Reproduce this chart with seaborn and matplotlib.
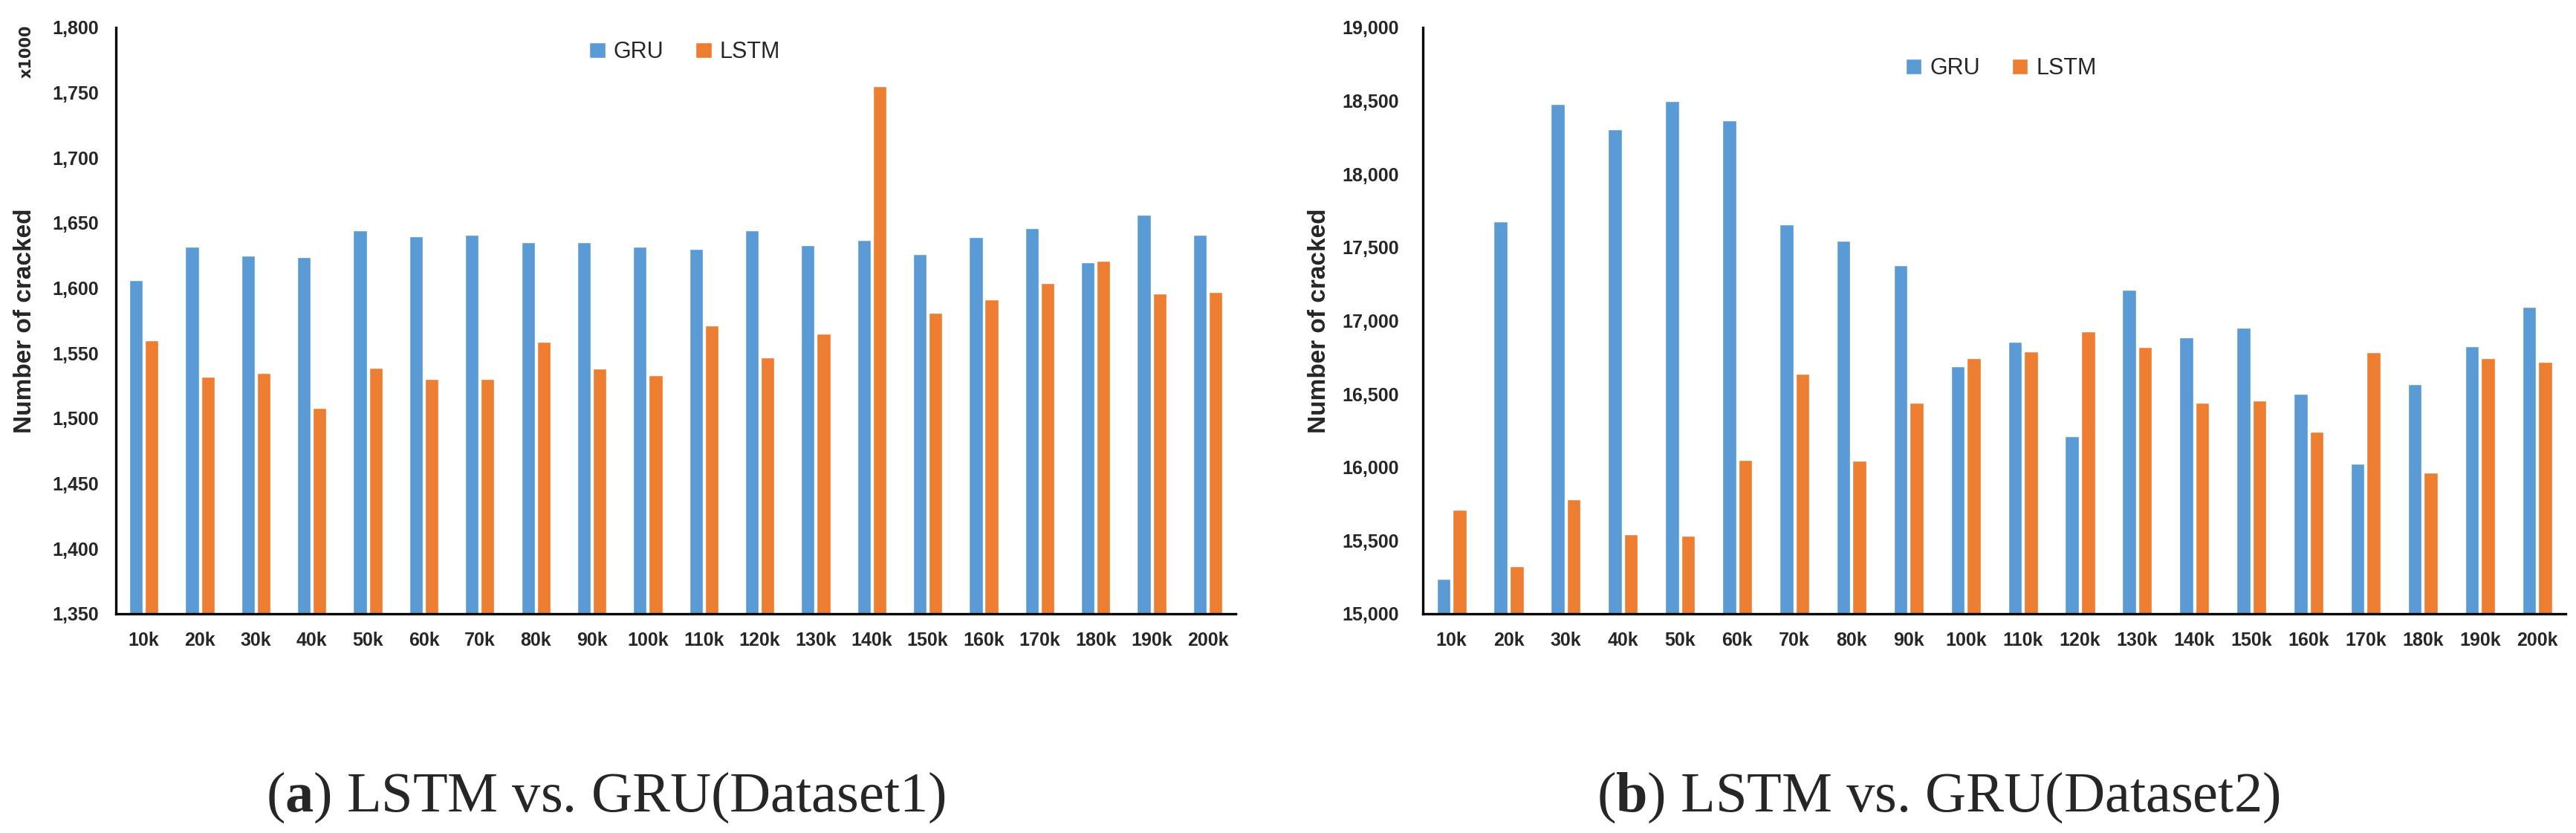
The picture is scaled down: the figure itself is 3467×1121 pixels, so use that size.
import pandas as pd
import matplotlib
matplotlib.use('Agg')
import matplotlib.pyplot as plt
from matplotlib.ticker import FuncFormatter, MultipleLocator
import seaborn as sns

# training sizes on the x axis
sizes = ['10k', '20k', '30k', '40k', '50k', '60k', '70k', '80k', '90k', '100k',
         '110k', '120k', '130k', '140k', '150k', '160k', '170k', '180k', '190k', '200k']

# Dataset1 (values x1000)
gru_ds1 = [1606, 1632, 1625, 1624, 1644, 1640, 1641, 1635, 1635, 1632,
           1630, 1644, 1633, 1637, 1626, 1639, 1646, 1620, 1656, 1641]
lstm_ds1 = [1560, 1532, 1535, 1508, 1539, 1530, 1530, 1559, 1538, 1533,
            1571, 1547, 1565, 1755, 1581, 1591, 1604, 1621, 1596, 1597]

# Dataset2
gru_ds2 = [15238, 17675, 18478, 18305, 18498, 18366, 17654, 17547, 17380, 16688,
           16856, 16210, 17212, 16886, 16953, 16500, 16024, 16566, 16825, 17095]
lstm_ds2 = [15709, 15325, 15780, 15542, 15531, 16048, 16637, 16043, 16440, 16744,
            16790, 16927, 16820, 16440, 16454, 16242, 16785, 15963, 16744, 16719]

models = ['GRU', 'LSTM']
colors = {'GRU': '#5B9BD5', 'LSTM': '#ED7D31'}


def to_long(gru, lstm):
    df = pd.DataFrame({'size': sizes, 'GRU': gru, 'LSTM': lstm})
    return df.melt(id_vars='size', var_name='model', value_name='cracked')


sns.set_style('white')
plt.rcParams['font.family'] = ['DejaVu Sans']
# serif bold for the (a)/(b) letters in the captions
plt.rcParams['mathtext.fontset'] = 'custom'
plt.rcParams['mathtext.rm'] = 'Liberation Serif'
plt.rcParams['mathtext.bf'] = 'Liberation Serif:bold'

narrow = ['Liberation Sans Narrow', 'Liberation Sans', 'DejaVu Sans']
legend_font = {'family': narrow, 'size': 22}

fig = plt.figure(figsize=(34.67, 11.21), dpi=100)
ax1 = fig.add_axes([0.0450, 0.2632, 0.4347, 0.7038])
ax2 = fig.add_axes([0.5524, 0.2632, 0.4436, 0.7038])

panels = [
    (ax1, to_long(gru_ds1, lstm_ds1), (1350, 1800), 50, -0.071, 0.508, 0.958, 16.5),
    (ax2, to_long(gru_ds2, lstm_ds2), (15000, 19000), 500, -0.081, 0.506, 0.930, 23),
]

for ax, df, ylim, step, ylab_x, leg_x, leg_y, ypad in panels:
    sns.barplot(data=df, x='size', y='cracked', hue='model', hue_order=models,
                palette=colors, width=0.56, gap=0.14, ax=ax, saturation=1)
    ax.set_ylim(*ylim)
    ax.yaxis.set_major_locator(MultipleLocator(step))
    ax.yaxis.set_major_formatter(FuncFormatter(lambda v, p: f'{v:,.0f}'))
    for s in ['top', 'right']:
        ax.spines[s].set_visible(False)
    for s in ['left', 'bottom']:
        ax.spines[s].set_color('black')
        ax.spines[s].set_linewidth(2.4)
    ax.tick_params(axis='both', length=0)
    ax.tick_params(axis='y', pad=ypad)
    ax.tick_params(axis='x', pad=17)
    for lab in ax.get_xticklabels() + ax.get_yticklabels():
        lab.set_fontfamily(narrow)
        lab.set_fontweight('bold')
        lab.set_fontsize(18)
    ax.set_xlabel('')
    ax.set_ylabel('Number of cracked', fontsize=24, fontweight='bold',
                  family=['Liberation Sans', 'DejaVu Sans'])
    ax.yaxis.set_label_coords(ylab_x, 0.5)

    handles, labels = ax.get_legend_handles_labels()
    ax.legend(handles, labels, loc='center', bbox_to_anchor=(leg_x, leg_y), ncol=2,
              frameon=False, prop=legend_font, handlelength=0.7, handleheight=0.7,
              handletextpad=0.36, columnspacing=1.4, borderaxespad=0)

fig.text(36 / 3467, 1 - 69 / 1121, 'x1000', rotation=90, ha='center', va='center',
         fontsize=15, fontweight='bold')

cap_font = ['Liberation Serif', 'DejaVu Serif']
for x, letter, name in [(816, 'a', 'Dataset1'), (2609, 'b', 'Dataset2')]:
    fig.text(x / 3467, 1 - 1073 / 1121,
             '(' + r'$\mathbf{' + letter + '}$' + f') LSTM vs. GRU({name})',
             ha='center', va='center', fontsize=55, family=cap_font)

fig.savefig('out.png', dpi=100)
